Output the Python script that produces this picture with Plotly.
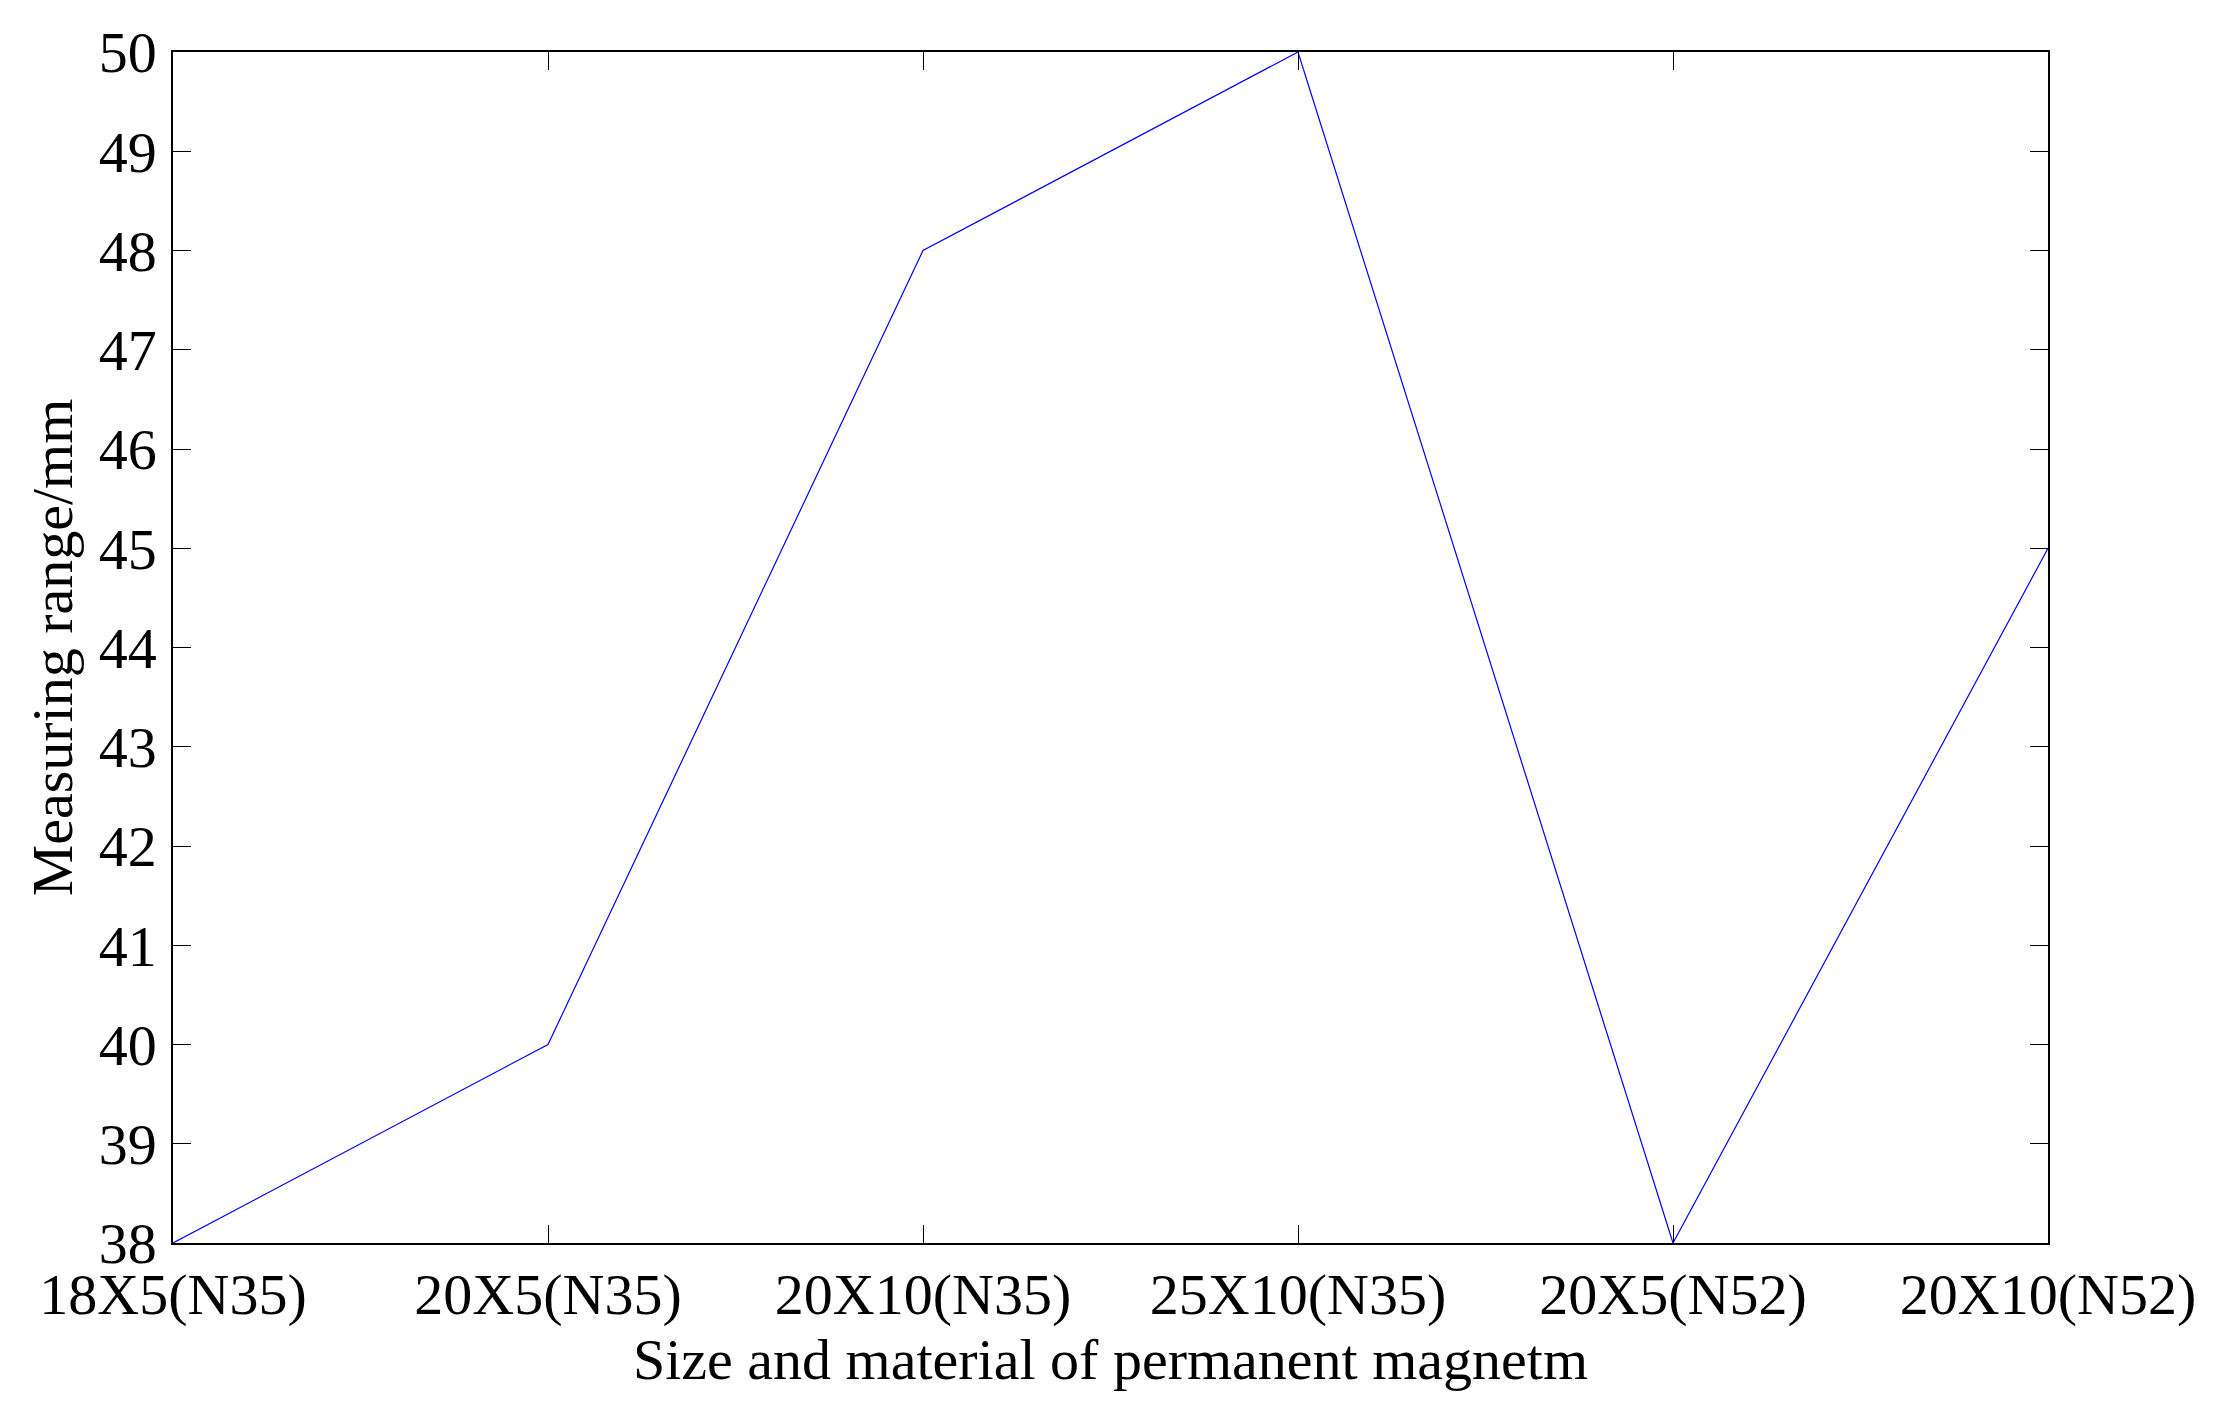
import plotly.graph_objects as go

magnets = ["18X5(N35)", "20X5(N35)", "20X10(N35)", "25X10(N35)", "20X5(N52)", "20X10(N52)"]
measuring_range = [38, 40, 48, 50, 38, 45]

fig = go.Figure()
fig.add_trace(go.Scatter(x=magnets, y=measuring_range, mode="lines",
                         line=dict(color="#0000ff", width=1.2), showlegend=False))

font_family = "Liberation Serif, Times New Roman, serif"
axis_common = dict(showline=True, linecolor="black", linewidth=1.5, mirror="ticks",
                   ticks="inside", ticklen=18, tickcolor="black", tickwidth=1.3,
                   showgrid=False, zeroline=False,
                   tickfont=dict(family=font_family, size=58, color="black"),
                   title_font=dict(family=font_family, size=58, color="black"))

fig.update_xaxes(type="category", range=[0, 5], title_text="Size and material of permanent magnetm",
                 title_standoff=4, **axis_common)
fig.update_yaxes(range=[38, 50], dtick=1, title_text="Measuring range/mm",
                 title_standoff=7, ticklabelstandoff=3, **axis_common)

# page has an 8px body margin, so margins are trimmed to keep the plot box in place
fig.update_layout(width=2237, height=1408, plot_bgcolor="white", paper_bgcolor="white",
                  margin=dict(l=165, r=197, t=37, b=173))

fig.write_html("out.html")
